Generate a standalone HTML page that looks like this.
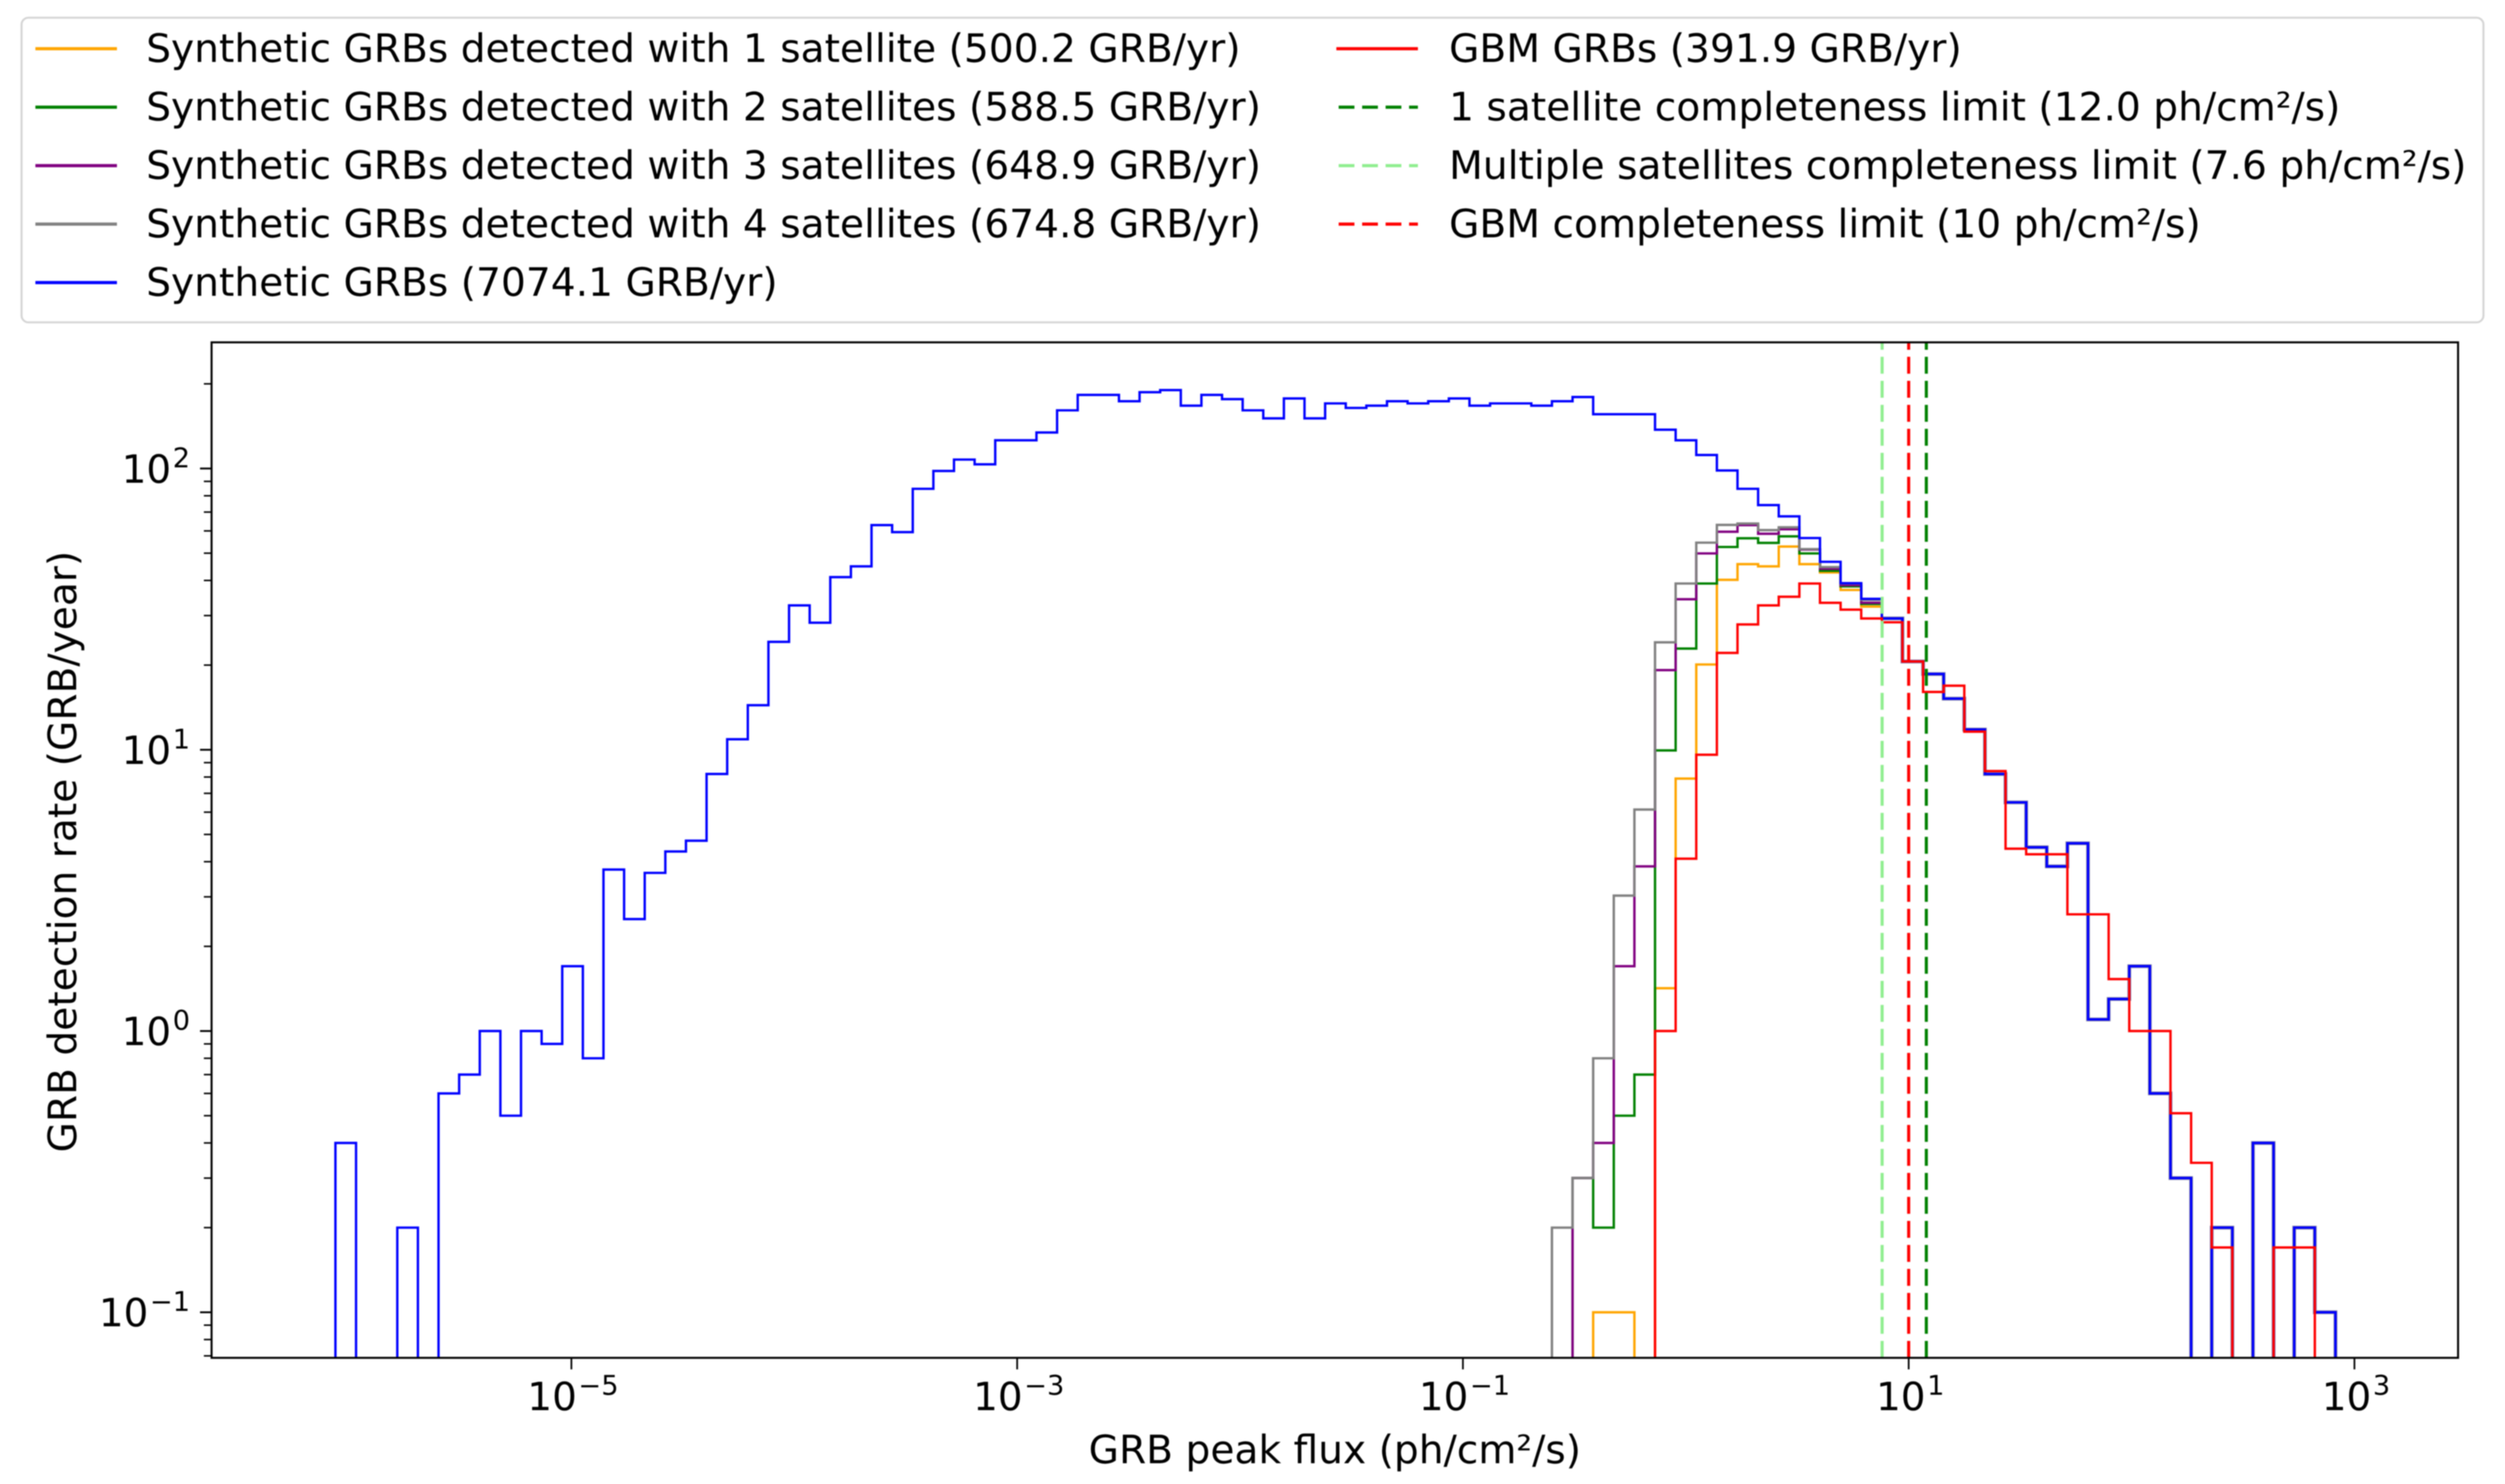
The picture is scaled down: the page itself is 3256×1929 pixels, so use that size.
<!DOCTYPE html>
<html lang="en">
<head>
<meta charset="utf-8">
<title>GRB detection rate histogram</title>
<style>
  html, body { margin: 0; padding: 0; background: #fff; }
  svg { display: block; filter: blur(0.7px); }
  text { font-family: "DejaVu Sans", sans-serif; fill: #000; text-rendering: geometricPrecision; }
  .legend-text { font-size: 50.9px; }
  .tick-text { font-size: 50.6px; }
  .axis-title { font-size: 50.9px; }
</style>
</head>
<body>
<svg id="chart" xmlns="http://www.w3.org/2000/svg" width="3256" height="1929" viewBox="0 0 3256 1929">
  <rect x="0" y="0" width="3256" height="1929" fill="#ffffff"/>
  <defs>
    <clipPath id="axes-clip"><rect x="275" y="445" width="2920" height="1320"/></clipPath>
  </defs>

  <g id="plot-area"></g>
  <g id="axis-layer"></g>

  <text class="axis-title" x="1735" y="1902" text-anchor="middle">GRB peak flux (ph/cm²/s)</text>
  <text class="axis-title" transform="translate(99,1107) rotate(-90)" text-anchor="middle">GRB detection rate (GRB/year)</text>

  <g>
    <rect x="28" y="23" width="3200" height="396" rx="9" ry="9" fill="#ffffff" stroke="#d4d4d4" stroke-width="2.6"/>

    <g>
      <line x1="46" x2="152" y1="63.3" y2="63.3" stroke="#ffa500" stroke-width="4.2"/>
      <text class="legend-text" x="190" y="80.5">Synthetic GRBs detected with 1 satellite (500.2 GRB/yr)</text>
    </g>
    <g>
      <line x1="46" x2="152" y1="139.3" y2="139.3" stroke="#008000" stroke-width="4.2"/>
      <text class="legend-text" x="190" y="156.5">Synthetic GRBs detected with 2 satellites (588.5 GRB/yr)</text>
    </g>
    <g>
      <line x1="46" x2="152" y1="215.3" y2="215.3" stroke="#800080" stroke-width="4.2"/>
      <text class="legend-text" x="190" y="232.5">Synthetic GRBs detected with 3 satellites (648.9 GRB/yr)</text>
    </g>
    <g>
      <line x1="46" x2="152" y1="291.3" y2="291.3" stroke="#808080" stroke-width="4.2"/>
      <text class="legend-text" x="190" y="308.5">Synthetic GRBs detected with 4 satellites (674.8 GRB/yr)</text>
    </g>
    <g>
      <line x1="46" x2="152" y1="367.3" y2="367.3" stroke="#0000ff" stroke-width="4.2"/>
      <text class="legend-text" x="190" y="384.5">Synthetic GRBs (7074.1 GRB/yr)</text>
    </g>

    <g>
      <line x1="1737" x2="1843" y1="63.3" y2="63.3" stroke="#ff0000" stroke-width="4.2"/>
      <text class="legend-text" x="1883.5" y="80.5">GBM GRBs (391.9 GRB/yr)</text>
    </g>
    <g>
      <line x1="1740" x2="1843" y1="139.3" y2="139.3" stroke="#008000" stroke-width="4.2" stroke-dasharray="20.5 10"/>
      <text class="legend-text" x="1883.5" y="156.5">1 satellite completeness limit (12.0 ph/cm²/s)</text>
    </g>
    <g>
      <line x1="1740" x2="1843" y1="215.3" y2="215.3" stroke="#90ee90" stroke-width="4.2" stroke-dasharray="20.5 10"/>
      <text class="legend-text" x="1883.5" y="232.5">Multiple satellites completeness limit (7.6 ph/cm²/s)</text>
    </g>
    <g>
      <line x1="1740" x2="1843" y1="291.3" y2="291.3" stroke="#ff0000" stroke-width="4.2" stroke-dasharray="20.5 10"/>
      <text class="legend-text" x="1883.5" y="308.5">GBM completeness limit (10 ph/cm²/s)</text>
    </g>
  </g>
</svg>

<script>
// Histogram binning (log10 of flux)
const binCount = 97;
const firstBinLogFlux = -6.0587;
const binLogWidth = 0.09251;

// Series values, GRB/yr per bin. Each series starts at its *Start bin; earlier bins are empty.
const syntheticStart = 0;
const syntheticValues = [0.4,0,0,0.2,0,0.6,0.7,1,0.5,1,0.9,1.7,0.8,3.75,2.5,3.65,4.35,4.75,8.2,10.9,
  14.4,24.2,32.6,28.3,41.1,44.9,62.9,59.4,84.7,98,107.6,103.5,126,126,134.3,161,182.7,182.7,173.4,186.8,
  190,167.3,182.7,176.5,161,150.8,177.5,150.8,170.4,164.2,167.3,173.4,170.4,173.4,177.5,167.3,170.4,170.4,167.3,173.4,
  179.6,156,156,156,137.4,126,111.7,98.4,84.7,74.1,67.6,56.6,46.6,39.1,34.4,29.3,
  20.6,18.6,15.2,11.8,8.2,6.5,4.5,3.85,4.65,1.1,1.3,1.7,0.6,0.3,0,0.2,0,0.4,0,0.2,0.1];

const oneSatStart = 61;
const oneSatValues = [0.1,0.1,0,1.42,7.9,20.1,40.2,45.7,44.9,52.8,45.7,42.7,37,32.3,29.3,
  20.6,18.6,15.2,11.8,8.2,6.5,4.5,3.85,4.65,1.1,1.3,1.7,0.6,0.3,0,0.2,0,0.4,0,0.2,0.1];

const twoSatStart = 60;
const twoSatValues = [0.3,0.2,0.5,0.7,9.95,22.9,39,52.6,56.5,54.4,57.4,49.9,43.3,38.1,33,29.3,
  20.6,18.6,15.2,11.8,8.2,6.5,4.5,3.85,4.65,1.1,1.3,1.7,0.6,0.3,0,0.2,0,0.4,0,0.2,0.1];

const threeSatStart = 60;
const threeSatValues = [0.3,0.4,1.7,3.85,19.2,34.3,49.9,59.6,62.9,58.6,60.8,51.5,44,38.5,33.3,29.3,
  20.6,18.6,15.2,11.8,8.2,6.5,4.5,3.85,4.65,1.1,1.3,1.7,0.6,0.3,0,0.2,0,0.4,0,0.2,0.1];

const fourSatStart = 59;
const fourSatValues = [0.2,0.3,0.8,3.03,6.13,24.1,39,54.5,63,63.7,60.4,61.8,51.7,44.6,39,34.1,29.3,
  20.6,18.6,15.2,11.8,8.2,6.5,4.5,3.85,4.65,1.1,1.3,1.7,0.6,0.3,0,0.2,0,0.4,0,0.2,0.1];

const gbmStart = 64;
const gbmValues = [1,4.1,9.6,22.1,27.9,32.6,35,39,33.3,31.5,29.3,28.4,20.6,16.05,16.9,11.6,8.4,4.45,4.25,4.25,
  2.6,2.6,1.53,1,1,0.51,0.34,0.17,0,0,0.17,0.17,0];

// Completeness limits, ph/cm2/s
const limitOneSat = 12.0;
const limitMultiSat = 7.6;
const limitGbm = 10;

// Tick exponents
const xTickExponents = [-5, -3, -1, 1, 3];
const yTickExponents = [-1, 0, 1, 2];
const yMinorFactors = [2, 3, 4, 5, 6, 7, 8, 9];

// Axis geometry
const plotLeft = 275, plotRight = 3195, plotTop = 445, plotBottom = 1765;
function xLog(logV) { return 742.7 + 289.7 * (logV + 5); }
function yScale(v) { return 1340.2 - 365.6 * Math.log10(v); }
function yBin(v) { return v > 0 ? yScale(v) : plotBottom + 60; }

const SVGNS = 'http://www.w3.org/2000/svg';
const plot = document.getElementById('plot-area');
const axisLayer = document.getElementById('axis-layer');
plot.setAttribute('clip-path', 'url(#axes-clip)');

function stepPath(start, values, fromBaseline) {
  const base = plotBottom + 60;
  let d = '';
  values.forEach(function (v, i) {
    const k = start + i;
    const x0 = xLog(firstBinLogFlux + k * binLogWidth);
    const x1 = xLog(firstBinLogFlux + (k + 1) * binLogWidth);
    d += (i === 0 && !fromBaseline ? 'M' : 'L') + x0.toFixed(2) + ' ' + yBin(v).toFixed(2) + 'L' + x1.toFixed(2) + ' ' + yBin(v).toFixed(2);
  });
  d += 'L' + xLog(firstBinLogFlux + (start + values.length) * binLogWidth).toFixed(2) + ' ' + base;
  if (fromBaseline) {
    d = 'M' + xLog(firstBinLogFlux + start * binLogWidth).toFixed(2) + ' ' + base + d;
  }
  return d;
}

function drawHistogram(start, values, color, name) {
  const path = document.createElementNS(SVGNS, 'path');
  path.setAttribute('d', stepPath(start, values, true));
  path.setAttribute('fill', 'none');
  path.setAttribute('stroke', color);
  path.setAttribute('stroke-width', '3.1');
  path.setAttribute('stroke-linejoin', 'miter');
  
  
  plot.appendChild(path);
}

drawHistogram(oneSatStart, oneSatValues, '#ffa500', 'histogram-1-satellite');
drawHistogram(twoSatStart, twoSatValues, '#008000', 'histogram-2-satellites');
drawHistogram(threeSatStart, threeSatValues, '#800080', 'histogram-3-satellites');
drawHistogram(fourSatStart, fourSatValues, '#808080', 'histogram-4-satellites');

// Where every series coincides the stacked antialiased edges read as a darker, wider line.
let overlapStart = syntheticValues.length;
while (overlapStart > fourSatStart &&
       syntheticValues[overlapStart - 1] === fourSatValues[overlapStart - 1 - fourSatStart]) {
  overlapStart--;
}
const overlapHalo = document.createElementNS(SVGNS, 'path');
overlapHalo.setAttribute('d', stepPath(overlapStart, syntheticValues.slice(overlapStart), false));
overlapHalo.setAttribute('fill', 'none');
overlapHalo.setAttribute('stroke', '#4a4a80');
overlapHalo.setAttribute('stroke-width', '5');
overlapHalo.setAttribute('stroke-opacity', '0.6');


plot.appendChild(overlapHalo);

drawHistogram(syntheticStart, syntheticValues, '#0000ff', 'histogram-synthetic');
drawHistogram(gbmStart, gbmValues, '#ff0000', 'histogram-gbm');

function drawLimit(value, color, name) {
  const line = document.createElementNS(SVGNS, 'line');
  const x = xLog(Math.log10(value));
  line.setAttribute('x1', x);
  line.setAttribute('x2', x);
  line.setAttribute('y1', plotBottom);
  line.setAttribute('y2', plotTop);
  line.setAttribute('stroke', color);
  line.setAttribute('stroke-width', '4');
  line.setAttribute('stroke-dasharray', '22 9.2');
  
  
  plot.appendChild(line);
}

drawLimit(limitOneSat, '#008000', 'limit-1-satellite');
drawLimit(limitMultiSat, '#90ee90', 'limit-multiple-satellites');
drawLimit(limitGbm, '#ff0000', 'limit-gbm');

// Spines
const frame = document.createElementNS(SVGNS, 'rect');
frame.setAttribute('x', plotLeft);
frame.setAttribute('y', plotTop);
frame.setAttribute('width', plotRight - plotLeft);
frame.setAttribute('height', plotBottom - plotTop);
frame.setAttribute('fill', 'none');
frame.setAttribute('stroke', '#000');
frame.setAttribute('stroke-width', '2.6');


axisLayer.appendChild(frame);

function addTick(x1, y1, x2, y2, width, name) {
  const t = document.createElementNS(SVGNS, 'line');
  t.setAttribute('x1', x1);
  t.setAttribute('y1', y1);
  t.setAttribute('x2', x2);
  t.setAttribute('y2', y2);
  t.setAttribute('stroke', '#000');
  t.setAttribute('stroke-width', width);
  
  
  axisLayer.appendChild(t);
}

function addPowerLabel(x, y, anchor, exponent, name) {
  const label = document.createElementNS(SVGNS, 'text');
  label.setAttribute('class', 'tick-text');
  label.setAttribute('x', x);
  label.setAttribute('y', y);
  label.setAttribute('text-anchor', anchor);
  
  
  const base = document.createElementNS(SVGNS, 'tspan');
  base.textContent = '10';
  const sup = document.createElementNS(SVGNS, 'tspan');
  sup.setAttribute('dy', '-20');
  sup.setAttribute('dx', '2');
  sup.setAttribute('font-size', '35.4');
  sup.textContent = String(exponent).replace('-', '\u2212');
  label.appendChild(base);
  label.appendChild(sup);
  axisLayer.appendChild(label);
}

xTickExponents.forEach(function (e) {
  const x = xLog(e);
  addTick(x, plotBottom, x, plotBottom + 15, 2.2, 'x-tick-' + e);
  addPowerLabel(x + 2, 1833, 'middle', e, 'x-tick-label-' + e);
});

yTickExponents.forEach(function (e) {
  const y = yScale(Math.pow(10, e));
  addTick(plotLeft - 15, y, plotLeft, y, 2.4, 'y-tick-' + e);
  addPowerLabel(247, y + 18.4, 'end', e, 'y-tick-label-' + e);
});

[-2, -1, 0, 1, 2].forEach(function (e) {
  yMinorFactors.forEach(function (f) {
    const y = yScale(f * Math.pow(10, e));
    if (y < plotTop || y > plotBottom) return;
    addTick(plotLeft - 10, y, plotLeft, y, 2, 'y-minor-tick');
  });
});
</script>
</body>
</html>
